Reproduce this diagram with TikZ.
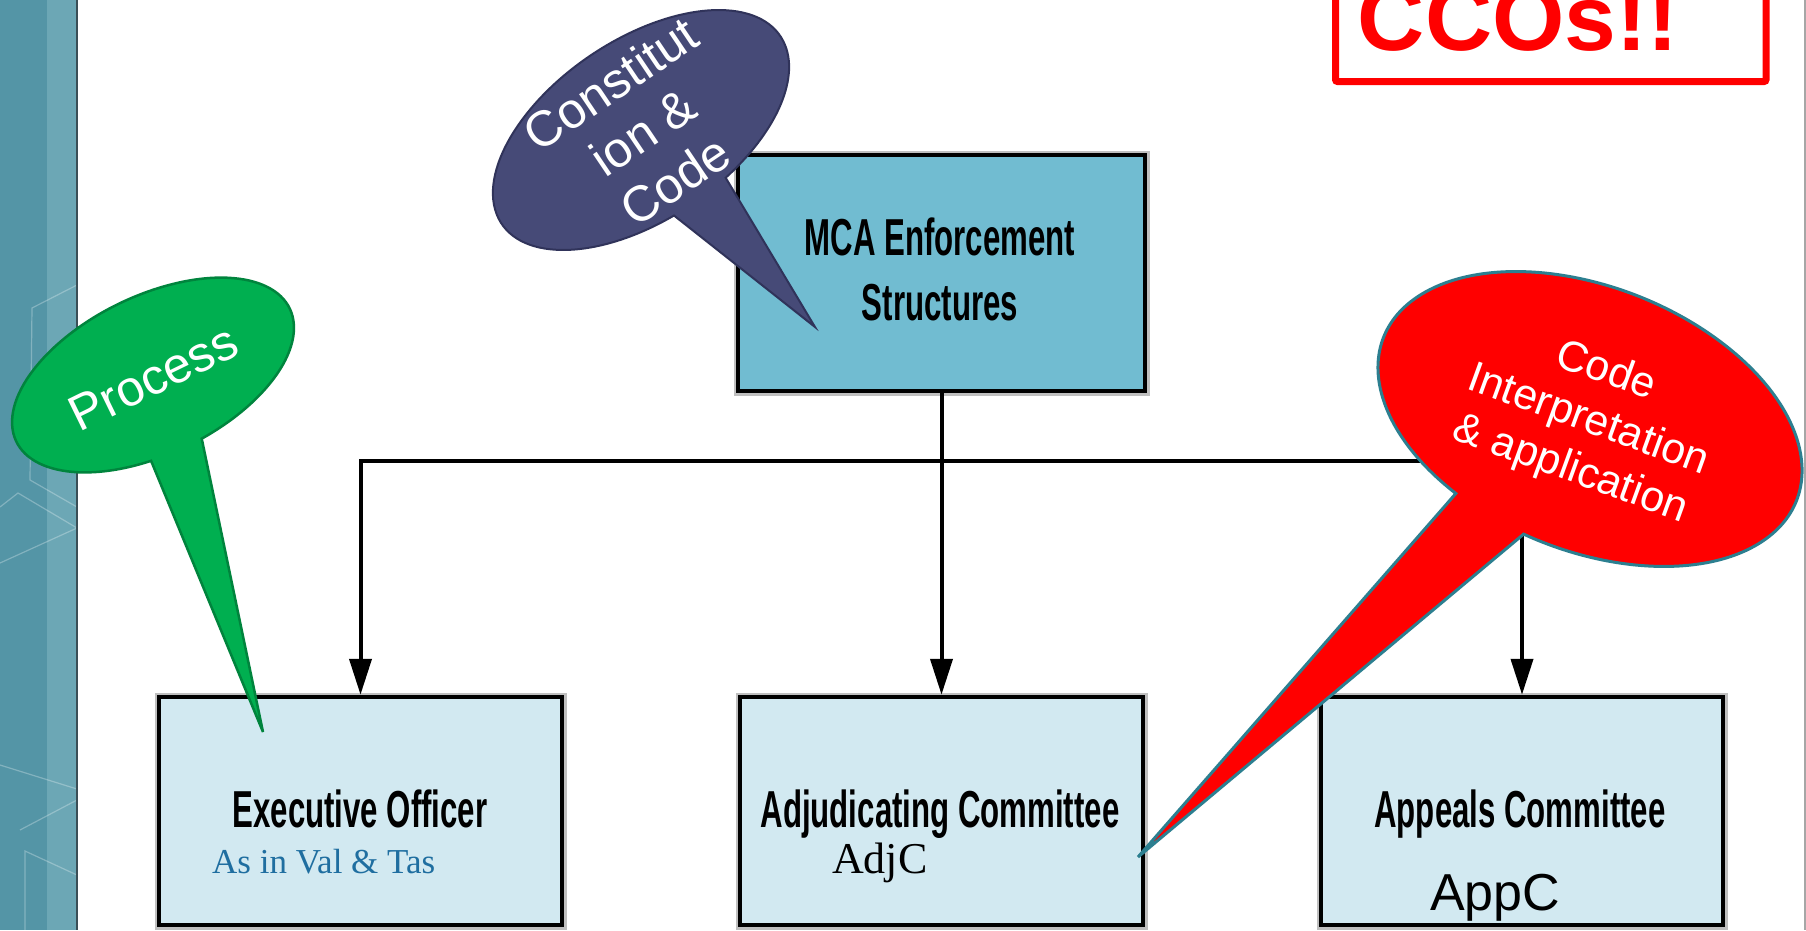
\documentclass[tikz,border=0pt]{standalone}
\usepackage{fontspec}
\setmainfont{Liberation Serif}
\newfontfamily\arialfont{Liberation Sans}
\newfontfamily\narrowfont[FakeStretch=0.6]{Liberation Sans}
\usetikzlibrary{arrows.meta}
\definecolor{bandA}{HTML}{5495A6}
\definecolor{bandB}{HTML}{6CA7B5}
\definecolor{bandEdge}{HTML}{3B4F57}
\definecolor{mcafill}{HTML}{71BCD1}
\definecolor{boxfill}{HTML}{D2E9F1}
\definecolor{grnfill}{HTML}{00AF50}
\definecolor{grnline}{HTML}{00843D}
\definecolor{navyfill}{HTML}{464A77}
\definecolor{navyline}{HTML}{30335A}
\definecolor{redfill}{HTML}{FF0000}
\definecolor{redline}{HTML}{2C7F90}
\definecolor{asblue}{HTML}{1F6EA0}
\begin{document}
\begin{tikzpicture}[x=1pt,y=-1pt,
  orgbox/.style={draw=black, line width=4.5pt, inner sep=0pt, minimum width=403pt, minimum height=228pt, fill=boxfill, preaction={draw=black!25, line width=9pt}},
  boxlabel/.style={anchor=base, inner sep=0pt, font=\narrowfont\bfseries\fontsize{52}{62}\selectfont},
  conn/.style={draw=black, line width=4pt},
  arr/.style={-{Triangle[width=22pt,length=36pt]}},
  bubbletext/.style={text=white, align=center, inner sep=0pt},
  greenbubble/.style={fill=grnfill, draw=grnline, line width=2.5pt, line join=miter},
  navybubble/.style={fill=navyfill, draw=navyline, line width=2pt, line join=miter},
  redbubble/.style={fill=redfill, draw=redline, line width=3pt, line join=miter},
  bandline/.style={draw=white, opacity=0.28, line width=1.2pt}
]
\useasboundingbox (0,0) rectangle (1806,930);
\clip (0,0) rectangle (1806,930);
\fill[white] (0,0) rectangle (1806,930);

% left decorative band
\fill[bandA] (0,0) rectangle (77,930);
\fill[bandB] (47,0) rectangle (77,930);
\draw[bandline] (77,285) -- (32,308) -- (30,480) -- (77,507);
\draw[bandline] (0,507) -- (18,493) -- (77,528);
\draw[bandline] (0,563) -- (77,528);
\draw[bandline] (0,765) -- (77,789);
\draw[bandline] (20,830) -- (77,800);
\draw[bandline] (77,875) -- (25,851) -- (25,930);
\draw[bandEdge, line width=2pt] (77,0) -- (77,930);
\draw[gray!70, line width=1.5pt] (1805,0) -- (1805,930);

% CCOs box
\node[draw=red, line width=7pt, rounded corners=2pt, minimum width=430.5pt, minimum height=200pt, inner sep=0pt] (ccobox) at (1550.75,-18.5) {};
\node[anchor=base, inner sep=0pt, text=red, font=\arialfont\bfseries\fontsize{93}{110}\selectfont] (ccotext) at (1518,50) {CCOs!!};

% boxes
\node[orgbox, fill=mcafill, minimum width=407pt, minimum height=236pt] (mca) at (941.5,273) {};
\node[orgbox] (exec) at (360.5,811) {};
\node[orgbox] (adj) at (941.5,811) {};
\node[orgbox, minimum width=402pt] (app) at (1522,811) {};

\node[boxlabel] (mcaA) at (940,255) {MCA Enforcement};
\node[boxlabel] (mcaB) at (940,320) {Structures};
\node[boxlabel] (execL) at (360,827) {Executive Officer};
\node[boxlabel] (adjL) at (940,827) {Adjudicating Committee};
\node[boxlabel] (appL) at (1520,827) {Appeals Committee};
\node[anchor=base west, inner sep=0pt, text=asblue, font=\fontsize{35}{42}\selectfont] (execS) at (212,873) {As in Val \& Tas};
\node[anchor=base west, inner sep=0pt, font=\fontsize{44}{52}\selectfont] (adjS) at (832,873) {AdjC};
\node[anchor=base west, inner sep=0pt, font=\arialfont\fontsize{52}{62}\selectfont] (appS) at (1430,910) {AppC};

% connectors
\coordinate (jl) at (360.5,461);
\coordinate (jr) at (1522,461);
\draw[conn, line cap=rect] (jl) -- (jr);
\draw[conn, arr] (mca.south) -- (adj.north);
\draw[conn, arr] (jl) -- (exec.north);
\draw[conn, arr] (jr) -- (app.north);

% callout tips
\coordinate (gtip) at (263,732);
\coordinate (ntip) at (815,327);
\coordinate (rtip) at (1138,857);

% green bubble
\begin{scope}[shift={(153,375)}, rotate=26]
  \draw[greenbubble] (105:152 and 79) arc[start angle=105, end angle=444, x radius=152, y radius=79] -- (gtip) -- cycle;
\end{scope}
\node[bubbletext, rotate=26, font=\arialfont\fontsize{50}{58}\selectfont] (gtext) at (153,378) {Process};

% navy bubble
\begin{scope}[shift={(641,130)}, rotate=34]
  \draw[navybubble] (97:168 and 90) arc[start angle=97, end angle=435, x radius=168, y radius=90] -- (ntip) -- cycle;
\end{scope}
\node[bubbletext, rotate=34, font=\arialfont\fontsize{50}{58}\selectfont] (ntext) at (643,132) {Constitut\\ion \&\\Code};

% red bubble
\begin{scope}[shift={(1590,419)}, rotate=-21.6]
  \draw[redbubble] (116:222 and 132) arc[start angle=116, end angle=455, x radius=222, y radius=132] -- (rtip) -- cycle;
\end{scope}
\node[bubbletext, rotate=-20, font=\arialfont\fontsize{43}{52}\selectfont] (rtext) at (1588,421) {Code\\Interpretation\\\& application};
\end{tikzpicture}
\end{document}
